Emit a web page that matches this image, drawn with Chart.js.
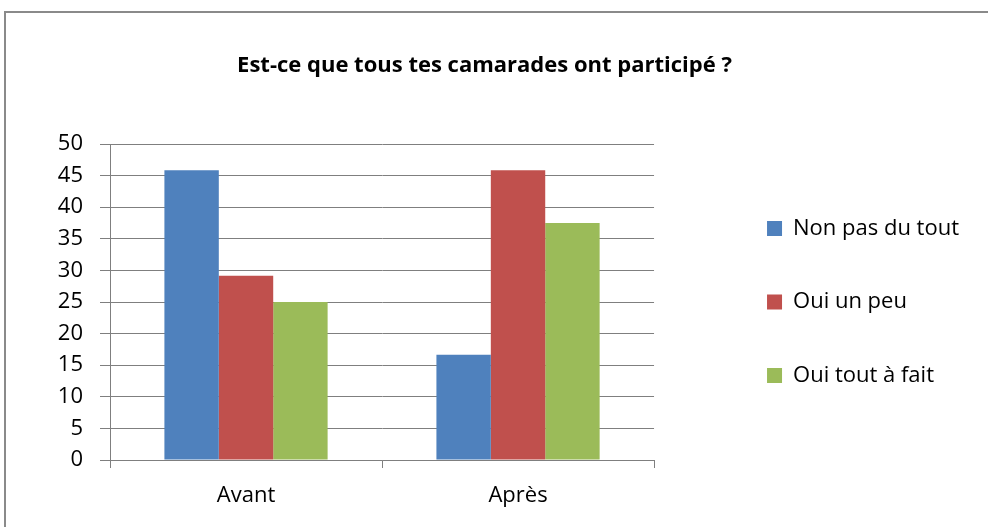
<!DOCTYPE html>
<html>
<head>
<meta charset="utf-8">
<script src="https://cdn.jsdelivr.net/npm/chart.js@4"></script>
<style>
  html, body { margin: 0; padding: 0; background: #fff; }
  #wrap { width: 988px; height: 527px; }
</style>
</head>
<body>
<div id="wrap"><canvas id="chart-id"></canvas></div>
<script>
var categories = ['Avant', 'Après'];
var nonPasDuTout = [45.83, 16.67];
var ouiUnPeu = [29.17, 45.83];
var ouiToutAFait = [25, 37.5];
var yTicks = [0, 5, 10, 15, 20, 25, 30, 35, 40, 45, 50];

var gridColor = '#7f7f7f';
var fontName = '"Open Sans", sans-serif';

// grey frame round the chart, cut off on the right and at the bottom
var framePlugin = {
  id: 'frame',
  beforeDraw: function(chart) {
    var ctx = chart.ctx;
    ctx.save();
    ctx.fillStyle = '#fff';
    ctx.fillRect(0, 0, chart.width, chart.height);
    ctx.strokeStyle = '#8a8a8a';
    ctx.lineWidth = 2;
    ctx.strokeRect(5, 12, chart.width + 20, chart.height + 20);
    ctx.restore();
  }
};

var ctx = document.getElementById('chart-id').getContext('2d');
var chart = new Chart(ctx, {
  type: 'bar',
  data: {
    labels: categories,
    datasets: [
      { label: 'Non pas du tout', data: nonPasDuTout, backgroundColor: '#4F81BD' },
      { label: 'Oui un peu', data: ouiUnPeu, backgroundColor: '#C0504D' },
      { label: 'Oui tout à fait', data: ouiToutAFait, backgroundColor: '#9BBB59' }
    ]
  },
  options: {
    responsive: true,
    maintainAspectRatio: false,
    animation: false,
    layout: { padding: { left: 0, right: 19, top: 0, bottom: 0 } },
    datasets: { bar: { categoryPercentage: 0.6, barPercentage: 1, borderWidth: 0 } },
    plugins: {
      title: {
        display: true,
        text: 'Est-ce que tous tes camarades ont participé ?',
        color: '#000',
        font: { family: fontName, size: 22, weight: 'bold' },
        padding: { top: 53, bottom: 64.6 }
      },
      legend: {
        position: 'right',
        fullSize: false,
        align: 'center',
        maxWidth: 254,
        labels: {
          color: '#000',
          boxWidth: 15,
          boxHeight: 15,
          padding: 51.5,
          font: { family: fontName, size: 22 }
        }
      },
      tooltip: { enabled: false }
    },
    scales: {
      x: {
        grid: { display: true, drawOnChartArea: false, drawTicks: true, tickLength: 8, color: gridColor, offset: true },
        border: { display: true, color: gridColor, width: 1 },
        ticks: { color: '#000', padding: 15, font: { family: fontName, size: 22 } },
        afterFit: function(s) { s.height = 67; }
      },
      y: {
        min: 0,
        max: 50,
        afterBuildTicks: function(s) { s.ticks = yTicks.map(function(v) { return { value: v }; }); },
        grid: { color: gridColor, tickLength: 10, lineWidth: 1 },
        border: { display: true, color: gridColor, width: 1 },
        ticks: { color: '#000', padding: 17, font: { family: fontName, size: 22 } },
        afterFit: function(s) { s.width = 110; }
      },
      gap: {
        type: 'linear',
        position: 'right',
        display: true,
        grid: { display: false },
        border: { display: false },
        ticks: { display: false },
        afterFit: function(s) { s.width = 61.5; }
      }
    }
  },
  plugins: [framePlugin]
});
</script>
</body>
</html>
